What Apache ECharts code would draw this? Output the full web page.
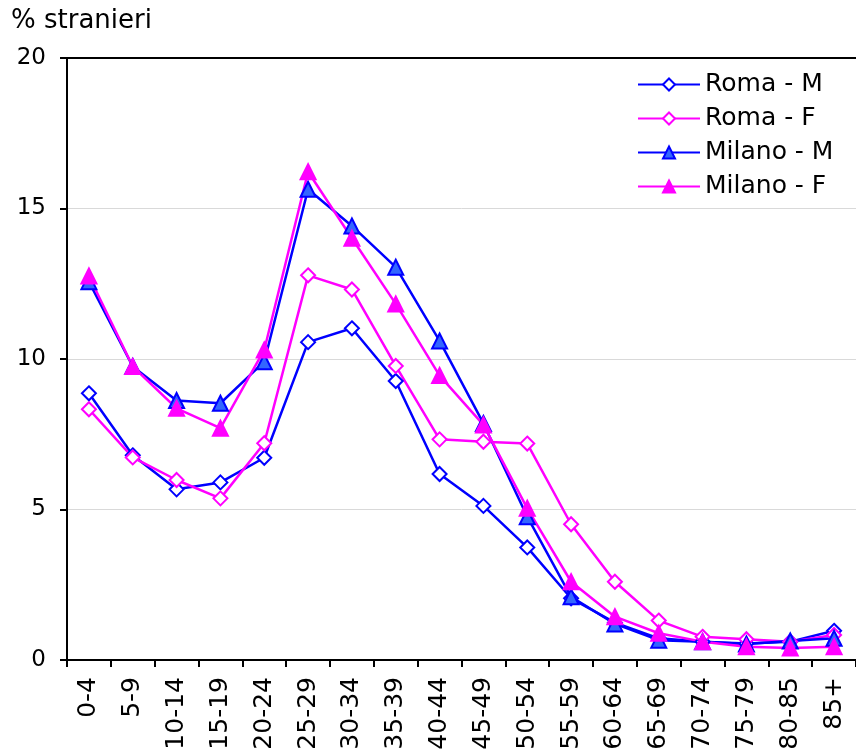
<!DOCTYPE html>
<html style="height: 100%">
<head>
    <meta charset="utf-8">
    <title>% stranieri</title>
    <script src="https://cdn.jsdelivr.net/npm/echarts@6/dist/echarts.min.js"></script>
</head>
<body style="height: 100%; margin: 0; background: #fff">
<div id="container" style="width: 856px; height: 756px"></div>
<script type="text/javascript">
    // classi di eta
    var classi = ['0-4', '5-9', '10-14', '15-19', '20-24', '25-29', '30-34', '35-39', '40-44',
        '45-49', '50-54', '55-59', '60-64', '65-69', '70-74', '75-79', '80-85', '85+'];

    // % stranieri per classe di eta
    var romaM = [8.86, 6.80, 5.67, 5.90, 6.72, 10.56, 11.02, 9.27, 6.18, 5.12, 3.74, 2.05, 1.24, 0.72, 0.61, 0.55, 0.61, 0.97];
    var romaF = [8.33, 6.73, 5.98, 5.37, 7.20, 12.78, 12.31, 9.77, 7.33, 7.25, 7.19, 4.51, 2.60, 1.31, 0.77, 0.69, 0.61, 0.83];
    var milanoM = [12.57, 9.75, 8.62, 8.53, 9.91, 15.64, 14.42, 13.05, 10.60, 7.86, 4.76, 2.10, 1.20, 0.66, 0.61, 0.53, 0.63, 0.72];
    var milanoF = [12.76, 9.75, 8.36, 7.70, 10.30, 16.22, 14.01, 11.83, 9.45, 7.81, 5.04, 2.60, 1.44, 0.89, 0.61, 0.44, 0.40, 0.44];

    var yTicks = [0, 5, 10, 15, 20];

    var font = 'DejaVu Sans, Verdana, sans-serif';
    var blu = '#0000ff';
    var magenta = '#ff00ff';

    var dom = document.getElementById('container');
    var myChart = echarts.init(dom);

    function serie(nome, dati, colore, simbolo, riempimento, dim) {
        return {
            name: nome,
            type: 'line',
            data: dati,
            symbol: simbolo,
            symbolSize: dim,
            showAllSymbol: true,
            animation: false,
            lineStyle: { color: colore, width: 2.5 },
            itemStyle: { color: riempimento, borderColor: colore, borderWidth: 2 }
        };
    }

    var option = {
        backgroundColor: '#fff',
        textStyle: { fontFamily: font },
        title: {
            text: '% stranieri',
            left: 6,
            top: 3,
            textStyle: { fontFamily: font, fontSize: 26, fontWeight: 'normal', color: '#000' }
        },
        legend: {
            left: 637,
            top: 72,
            padding: 0,
            orient: 'vertical',
            itemWidth: 62,
            itemHeight: 15,
            itemGap: 9,
            textStyle: { fontFamily: font, fontSize: 25, color: '#000', lineHeight: 25 },
            data: ['Roma - M', 'Roma - F', 'Milano - M', 'Milano - F']
        },
        grid: { left: 67, right: 0, top: 58, bottom: 96, containLabel: false },
        xAxis: [{
            type: 'category',
            data: classi,
            boundaryGap: true,
            axisLine: { lineStyle: { color: '#000', width: 2 } },
            axisTick: { show: true, length: 7, lineStyle: { color: '#000', width: 2 } },
            axisLabel: { rotate: 90, margin: 17, fontSize: 25, color: '#000', fontFamily: font, interval: 0 }
        }, {
            type: 'category',
            position: 'top',
            data: classi,
            axisLine: { show: true, lineStyle: { color: '#000', width: 2 } },
            axisTick: { show: false },
            axisLabel: { show: false }
        }],
        yAxis: {
            type: 'value',
            min: yTicks[0],
            max: yTicks[yTicks.length - 1],
            interval: 5,
            axisLine: { show: true, lineStyle: { color: '#000', width: 2 } },
            axisTick: { show: true, length: 7, lineStyle: { color: '#000', width: 2 } },
            axisLabel: { margin: 21, fontSize: 23, color: '#000', fontFamily: font },
            splitLine: { show: true, lineStyle: { color: '#d9d9d9', width: 1 } }
        },
        series: [
            serie('Roma - M', romaM, blu, 'diamond', '#fff', 14),
            serie('Roma - F', romaF, magenta, 'diamond', '#fff', 14),
            serie('Milano - M', milanoM, blu, 'triangle', '#3366ff', 15),
            serie('Milano - F', milanoF, magenta, 'triangle', magenta, 15)
        ]
    };

    myChart.setOption(option, true);
</script>
</body>
</html>
